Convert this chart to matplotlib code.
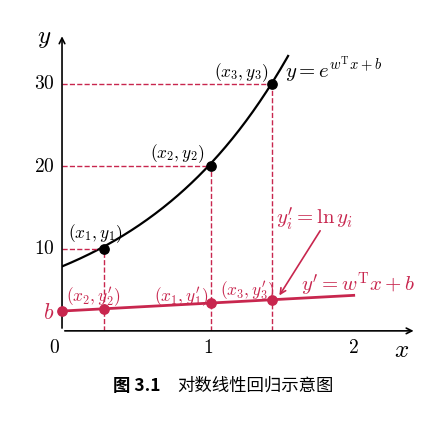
import numpy as np
import matplotlib.pyplot as plt

plt.rcParams['mathtext.fontset'] = 'cm'
plt.rcParams['font.family'] = ['DejaVu Serif']

# model parameters
w, b_exp = 0.936, np.log(7.8)      # y = exp(w x + b)
line_b, line_w = 2.4, 0.95         # y' = w x + b (drawn scale)
xs = [0.29, 1.02, 1.44]
ys = [9.9, 20.0, 29.9]
pt_labels = ['$(x_1,y_1)$', '$(x_2,y_2)$', '$(x_3,y_3)$']
red_labels = ["$(x_2,y_2')$", "$(x_1,y_1')$", "$(x_3,y_3')$"]
yticks = [10, 20, 30]
xticks = [1, 2]

red = '#c8264e'
fig = plt.figure(figsize=(4.43, 4.31), dpi=100)
ax = fig.add_axes([0.14, 0.23, 0.80, 0.69])
ax.set_xlim(0, 2.43)
ax.set_ylim(0, 36)
for s in ['top', 'right', 'left', 'bottom']:
    ax.spines[s].set_visible(False)
ax.set_xticks([]); ax.set_yticks([])
ax.annotate('', xy=(2.43, 0), xytext=(0, 0), arrowprops=dict(arrowstyle='->', lw=1.2, color='k'), annotation_clip=False)
ax.annotate('', xy=(0, 36), xytext=(0, 0), arrowprops=dict(arrowstyle='->', lw=1.2, color='k'), annotation_clip=False)

xc = np.linspace(0, 1.55, 200)
ax.plot(xc, np.exp(w * xc + b_exp), color='k', lw=1.6)
xl = np.linspace(0, 2.0, 2)
ax.plot(xl, line_b + line_w * xl, color=red, lw=2)

ry = [line_b + line_w * x for x in xs]
for x, y, r in zip(xs, ys, ry):
    ax.plot([0, x], [y, y], ls='--', color=red, lw=1)
    ax.plot([x, x], [0, y], ls='--', color=red, lw=1)
ax.scatter(xs, ys, color='k', s=45, zorder=5)
ax.scatter([0] + xs, [line_b] + ry, color=red, s=45, zorder=5, clip_on=False)

ax.text(0.04, 11.3, pt_labels[0], fontsize=12.5)
ax.text(0.6, 21.0, pt_labels[1], fontsize=12.5)
ax.text(1.04, 30.8, pt_labels[2], fontsize=12.5)
ax.text(1.53, 30.8, r'$y=e^{w^{\mathrm{T}}x+b}$', fontsize=15)
ax.text(0.03, 3.6, red_labels[0], fontsize=12.5, color=red)
ax.text(0.63, 3.6, red_labels[1], fontsize=12.5, color=red)
ax.text(1.08, 4.3, red_labels[2], fontsize=12.5, color=red)
ax.text(1.64, 4.9, r"$y'=w^{\mathrm{T}}x+b$", fontsize=15, color=red)
ax.text(1.47, 13.0, r"$y_i'=\ln y_i$", fontsize=15, color=red)
ax.annotate('', xy=(1.48, 4.0), xytext=(1.78, 12.4), arrowprops=dict(arrowstyle='->', color=red, lw=1.2))

ax.text(-0.09, 2.3, '$b$', fontsize=16, color=red, ha='center', va='center')
for t in yticks:
    ax.text(-0.05, t, '$%d$' % t, fontsize=14, ha='right', va='center')
ax.text(-0.05, -2.0, '$0$', fontsize=14, ha='center', va='center')
for t in xticks:
    ax.text(t, -2.0, '$%d$' % t, fontsize=14, ha='center', va='center')
ax.text(2.33, -2.2, '$x$', fontsize=18, ha='center', va='center')
ax.text(-0.12, 35.5, '$y$', fontsize=18, ha='center', va='center')

fig.text(0.255, 0.105, '图 3.1', fontsize=12.5, fontweight='bold', family=['Noto Sans CJK SC'], va='center')
fig.text(0.40, 0.105, '对数线性回归示意图', fontsize=12.5, family=['Noto Sans CJK SC'], va='center')
fig.savefig('out.png', dpi=100)
